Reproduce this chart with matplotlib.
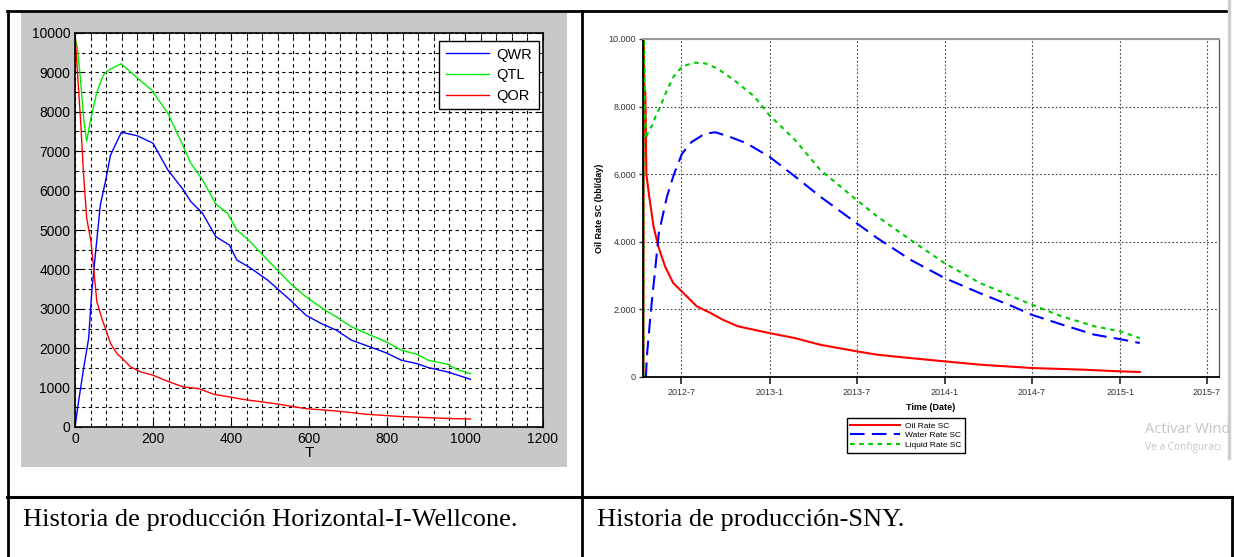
from datetime import datetime

import matplotlib
matplotlib.use("Agg")
import matplotlib.pyplot as plt
import matplotlib.dates as mdates
from matplotlib.lines import Line2D
from matplotlib.patches import Rectangle
from matplotlib.ticker import MultipleLocator, FuncFormatter
import numpy as np

# --- left chart: Horizontal-I-Wellcone (T in days) ---
qor_t = [0, 4, 15, 22, 30, 41, 47, 56, 69, 78, 91, 108, 121, 142, 168, 200, 240, 278, 317, 356,
         396, 435, 513, 592, 670, 749, 827, 906, 960, 1014]
qor_v = [10000, 9364, 7670, 6400, 5300, 4700, 4110, 3180, 2750, 2500, 2120, 1860, 1740, 1530, 1400,
         1314, 1150, 1017, 975, 830, 763, 695, 593, 466, 407, 322, 271, 237, 215, 203]

qtl_t = [0, 6, 13, 22, 30, 39, 56, 73, 88, 118, 157, 196, 238, 278, 297, 327, 361, 391, 415, 445,
         494, 552, 592, 641, 670, 709, 768, 798, 837, 876, 906, 955, 984, 1014]
qtl_v = [9873, 9620, 8940, 7840, 7250, 7750, 8500, 8940, 9068, 9220, 8881, 8559, 7966, 7119, 6695,
         6271, 5661, 5424, 5000, 4746, 4237, 3644, 3305, 2966, 2797, 2542, 2288, 2161, 1949, 1847,
         1695, 1593, 1441, 1356]

qwr_t = [0, 9, 22, 35, 43, 52, 65, 78, 91, 119, 160, 200, 238, 278, 297, 327, 361, 396, 415, 445,
         494, 552, 592, 631, 670, 709, 768, 798, 837, 876, 906, 955, 1014]
qwr_v = [0, 640, 1480, 2250, 3430, 4360, 5640, 6230, 6900, 7483, 7390, 7203, 6525, 6017, 5720,
         5424, 4831, 4619, 4237, 4068, 3729, 3220, 2839, 2627, 2458, 2203, 1992, 1881, 1695, 1610,
         1508, 1398, 1212]

# --- right chart: SNY (days after 2012-04-13) ---
sny_start = datetime(2012, 4, 13)
oil_days = [0, 0.5, 2, 4, 6, 12, 21, 31, 45, 62, 80, 111, 139, 165, 197, 262, 316, 368, 444, 487,
            556, 627, 701, 809, 915, 993, 1034]
oil_vals = [0, 10000, 8500, 8400, 6000, 5340, 4450, 3860, 3270, 2780, 2530, 2090, 1900, 1695, 1500,
            1300, 1150, 955, 760, 660, 560, 463, 365, 266, 217, 167, 148]

water_days = [5, 7, 15, 25, 32, 49, 63, 80, 100, 128, 150, 179, 214, 262, 316, 368, 444, 487, 556,
              627, 701, 769, 809, 872, 940, 993, 1034]
water_vals = [0, 600, 1890, 3270, 4260, 5340, 5980, 6600, 6950, 7200, 7240, 7110, 6920, 6520, 5930,
              5340, 4550, 4110, 3470, 2930, 2480, 2090, 1840, 1550, 1250, 1120, 1005]

liquid_days = [0, 0.5, 1, 3, 6, 10, 17, 25, 35, 49, 63, 80, 104, 128, 154, 188, 231, 262, 316, 368,
               444, 487, 556, 627, 701, 769, 809, 872, 940, 993, 1034]
liquid_vals = [0, 10000, 9900, 8000, 7050, 7300, 7410, 7700, 8000, 8490, 8890, 9180, 9300, 9280,
               9130, 8790, 8300, 7750, 7010, 6130, 5240, 4750, 4060, 3370, 2780, 2380, 2140, 1790,
               1500, 1350, 1150]

sny_ticks = [datetime(2012, 7, 1), datetime(2013, 1, 1), datetime(2013, 7, 1), datetime(2014, 1, 1),
             datetime(2014, 7, 1), datetime(2015, 1, 1), datetime(2015, 7, 1)]

captions = ["Historia de producción Horizontal-I-Wellcone.", "Historia de producción-SNY."]
# the watermark is cut by the screenshot edge in the source image
watermark = ["Activar Wind", "Ve a Configuraci"]

W, H = 1234, 557
fig = plt.figure(figsize=(W / 100, H / 100), dpi=100)
plt.rcParams['font.family'] = ['Liberation Sans', 'DejaVu Sans']


def px_axes(x0, y0, x1, y1, **kw):
    return fig.add_axes([x0 / W, 1 - y1 / H, (x1 - x0) / W, (y1 - y0) / H], **kw)


# page / table layer in pixel coordinates
bg = px_axes(0, 0, W, H, zorder=0)
bg.set_xlim(0, W)
bg.set_ylim(H, 0)
bg.axis('off')
bg.add_patch(Rectangle((21, 11), 546, 456, facecolor='#c8c8c8', edgecolor='none'))
for xs, ys, c, lw in [((7, 1229), (11, 11), 'black', 2),
                      ((7.5, 7.5), (11, H), 'black', 2),
                      ((582, 582), (11, H), 'black', 2),
                      ((7, 1234), (497, 497), 'black', 2.2),
                      ((1229, 1229), (0, 458), '#cfcfcf', 2.5),
                      ((1232, 1232), (497, H), 'black', 2)]:
    bg.add_line(Line2D(xs, ys, color=c, lw=lw))
bg.text(23, 526, captions[0], family='Liberation Serif', fontsize=19, va='baseline', ha='left')
bg.text(597, 526, captions[1], family='Liberation Serif', fontsize=19, va='baseline', ha='left')
bg.text(1145, 433, watermark[0], family='Open Sans', fontsize=10.5, color='#c4c4c4', va='baseline')
bg.text(1145, 450, watermark[1], family='Open Sans', fontsize=7.3, color='#c4c4c4', va='baseline')

# ---------------- left chart ----------------
ax1 = px_axes(75, 33, 543, 427, zorder=2)
ax1.plot(qwr_t, qwr_v, color='#0000ff', lw=1, label='QWR')
ax1.plot(qtl_t, qtl_v, color='#00ee00', lw=1, label='QTL')
ax1.plot(qor_t, qor_v, color='#ff0000', lw=1, label='QOR')
ax1.set_xlim(0, 1200)
ax1.set_ylim(0, 10000)
ax1.set_xticks(np.arange(0, 1201, 200))
ax1.set_yticks(np.arange(0, 10001, 1000))
ax1.xaxis.set_minor_locator(MultipleLocator(40))
ax1.yaxis.set_minor_locator(MultipleLocator(500))
ax1.grid(which='both', color='black', linestyle=(0, (3, 3)), lw=0.8)
ax1.set_axisbelow(True)
ax1.tick_params(which='both', direction='in', top=True, right=True, labelsize=10, colors='black')
ax1.tick_params(which='major', length=5)
ax1.tick_params(which='minor', length=3)
for s in ax1.spines.values():
    s.set_linewidth(1.2)
ax1.set_xlabel('T', fontsize=11, labelpad=0)
ax1.legend(loc='upper right', bbox_to_anchor=(539 / W, 1 - 41 / H), bbox_transform=fig.transFigure,
           fontsize=10.5, fancybox=False, framealpha=1, edgecolor='black', borderaxespad=0,
           handlelength=3.0, labelspacing=0.45, borderpad=0.45, handletextpad=0.5)

# ---------------- right chart ----------------
ax2 = px_axes(643, 39, 1219, 377, zorder=2)
x0 = mdates.date2num(sny_start)
ax2.plot(x0 + np.array(oil_days), oil_vals, color='#ff0000', lw=1.5, label='Oil Rate SC')
ax2.plot(x0 + np.array(water_days), water_vals, color='#0000ff', lw=1.5,
         linestyle=(0, (7, 3.5)), label='Water Rate SC')
ax2.plot(x0 + np.array(liquid_days), liquid_vals, color='#00cc00', lw=1.5,
         linestyle=(0, (2.2, 2.2)), label='Liquid Rate SC')
ax2.set_xlim(mdates.date2num(datetime(2012, 4, 12)), mdates.date2num(datetime(2015, 7, 26)))
ax2.set_ylim(0, 10000)
ax2.set_xticks(mdates.date2num(sny_ticks))
ax2.xaxis.set_major_formatter(FuncFormatter(
    lambda v, p: f"{mdates.num2date(v).year}-{mdates.num2date(v).month}"))
ax2.set_yticks(np.arange(0, 10001, 2000))
ax2.yaxis.set_major_formatter(FuncFormatter(lambda v, p: f"{int(v):,}".replace(',', '.')))
ax2.grid(color='#444444', linestyle=(0, (1.5, 2)), lw=0.8)
ax2.tick_params(axis='x', direction='out', length=5, width=1.3, labelsize=6.5, colors='#333333', pad=3)
ax2.tick_params(axis='y', direction='out', length=3, width=1, labelsize=6.5, colors='#333333', pad=2)
ax2.spines['left'].set_linewidth(1.3)
ax2.spines['bottom'].set_linewidth(1.3)
ax2.spines['top'].set_color('#999999')
ax2.spines['top'].set_linewidth(1.5)
ax2.spines['right'].set_color('#555555')
ax2.spines['right'].set_linewidth(0.9)
ax2.set_xlabel('Time (Date)', fontsize=6.5, fontweight='bold', labelpad=4)
ax2.set_ylabel('Oil Rate SC (bbl/day)', fontsize=6.5, fontweight='bold', labelpad=3)
ax2.legend(loc='center', bbox_to_anchor=(906 / W, 1 - 435.5 / H), bbox_transform=fig.transFigure,
           fontsize=6, fancybox=False, framealpha=1, edgecolor='black', handlelength=6,
           labelspacing=0.25, borderpad=0.4, handletextpad=0.6)

fig.savefig('out.png', dpi=100)
